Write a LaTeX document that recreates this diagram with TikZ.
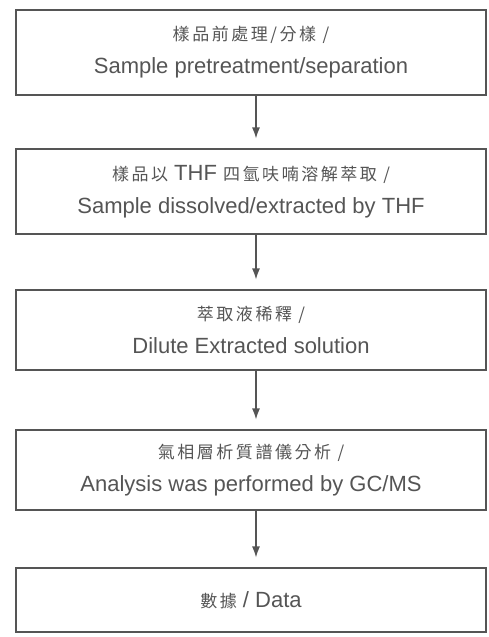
\documentclass[tikz,border=0pt]{standalone}
\usepackage{fontspec}
\setmainfont{Liberation Sans}
\newfontfamily\cjk[LetterSpace=15]{Noto Sans CJK TC}
\usetikzlibrary{arrows.meta}
\definecolor{ink}{HTML}{555555}
\begin{document}
\begin{tikzpicture}[x=1pt,y=-1pt,
  box/.style={draw=ink, line width=1.2pt, text=ink, minimum width=470pt, inner sep=0pt, align=center, font=\fontsize{22}{33}\selectfont},
  flow/.style={draw=ink, line width=1.2pt, -{Latex[length=11pt,width=8pt]}, shorten >=10pt}]
\useasboundingbox[fill=white] (0,0) rectangle (488,637);
\newcommand{\zh}[1]{{\cjk\fontsize{17}{20}\selectfont #1}}
\node[box, minimum height=85pt] (b1) at (251,52.5) {\zh{樣品前處理/分樣 /}\\Sample pretreatment/separation};
\node[box, minimum height=85pt] (b2) at (251,191.5) {\zh{樣品以} THF \zh{四氫呋喃溶解萃取 /}\\Sample dissolved/extracted by THF};
\node[box, minimum height=80pt] (b3) at (251,330) {\zh{萃取液稀釋 /}\\Dilute Extracted solution};
\node[box, minimum height=80pt] (b4) at (251,470) {\zh{氣相層析質譜儀分析 /}\\Analysis was performed by GC/MS};
\node[box, minimum height=64pt] (b5) at (251,600) {\zh{數據} / Data};
\foreach \a/\b in {b1/b2,b2/b3,b3/b4,b4/b5}
  \draw[flow] ([xshift=5pt]\a.south) -- ([xshift=5pt]\b.north);
\end{tikzpicture}
\end{document}
